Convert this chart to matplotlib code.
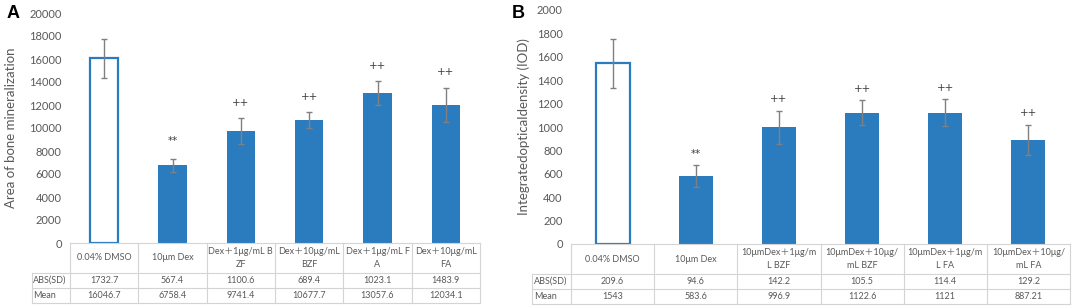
import matplotlib
matplotlib.use('Agg')
import matplotlib.pyplot as plt

plt.rcParams['font.family'] = ['Lato', 'DejaVu Sans', 'Noto Sans CJK SC']

# ---- data ----
groups_a = ['0.04% DMSO', '10μm Dex', 'Dex＋1μg/mL B\nZF', 'Dex＋10μg/mL\nBZF',
            'Dex＋1μg/mL F\nA', 'Dex＋10μg/mL\nFA']
mean_a = [16046.7, 6758.4, 9741.4, 10677.7, 13057.6, 12034.1]
sd_a = [1732.7, 567.4, 1100.6, 689.4, 1023.1, 1483.9]
marks_a = ['', '**', '++', '++', '++', '++']

groups_b = ['0.04% DMSO', '10μm Dex', '10μmDex＋1μg/m\nL BZF', '10μmDex＋10μg/\nmL BZF',
            '10μmDex＋1μg/m\nL FA', '10μmDex＋10μg/\nmL FA']
mean_b = [1543, 583.6, 996.9, 1122.6, 1121, 887.21]
sd_b = [209.6, 94.6, 142.2, 105.5, 114.4, 129.2]
marks_b = ['', '**', '++', '++', '++', '++']

BLUE = '#2B7CBF'
GRAY = '#595959'
LINE = '#d4d4d4'
W, H = 1072, 308

fig = plt.figure(figsize=(W / 100, H / 100), dpi=100)


def panel(rect_px, groups, means, sds, marks, ymax, step, ylabel, letter, letter_x,
          label_x, mark_off, label_w):
    l, t, r, b = rect_px
    ax = fig.add_axes([l / W, (H - b) / H, (r - l) / W, (b - t) / H])
    x = list(range(len(groups)))
    ax.bar(x[:1], means[:1], width=0.41, facecolor='white', edgecolor=BLUE, linewidth=1.6)
    ax.bar(x[1:], means[1:], width=0.41, color=BLUE)
    ax.errorbar(x, means, yerr=sds, fmt='none', ecolor='#808080', elinewidth=1.0,
                capsize=2, capthick=1.0)
    for xi, m, s, mk in zip(x, means, sds, marks):
        if mk:
            off = mark_off[0] if mk == '++' else mark_off[1]
            ax.annotate(mk, (xi, m + s), xytext=(0, off), textcoords='offset points',
                        ha='center', va='center', fontsize=7.5, family='DejaVu Sans',
                        color='#404040')
    ax.set_xlim(-0.5, len(groups) - 0.5)
    ax.set_ylim(0, ymax)
    ax.set_yticks(range(0, ymax + 1, step))
    ax.tick_params(axis='y', length=0, pad=6, labelsize=8, labelcolor=GRAY)
    ax.set_xticks([])
    for sp in ax.spines.values():
        sp.set_visible(False)
    ax.set_ylabel(ylabel, fontsize=9.5, color=GRAY)
    ax.yaxis.set_label_coords((label_x - l) / (r - l), 0.5)

    # data table below the axis
    hpx = b - t
    y0, y1, y2, y3 = 0, -30 / hpx, -45 / hpx, -60 / hpx
    tr = ax.get_xaxis_transform()
    n = len(groups)
    xl = -0.5 - label_w
    kw = dict(color=LINE, lw=0.8, transform=tr, clip_on=False)
    ax.plot([-0.5, n - 0.5], [y0, y0], **kw)
    for yy in (y1, y2, y3):
        ax.plot([xl, n - 0.5], [yy, yy], **kw)
    ax.plot([xl, xl], [y1, y3], **kw)
    for i in range(n + 1):
        ax.plot([i - 0.5, i - 0.5], [y0, y3], **kw)
    tkw = dict(transform=tr, fontsize=6.5, color=GRAY, va='center', clip_on=False)
    for i in range(n):
        ax.text(i, (y0 + y1) / 2, groups[i], ha='center', linespacing=1.5, **tkw)
        ax.text(i, (y1 + y2) / 2, f'{sds[i]:g}', ha='center', **tkw)
        ax.text(i, (y2 + y3) / 2, f'{means[i]:g}', ha='center', **tkw)
    ax.text(xl + 0.02, (y1 + y2) / 2, 'ABS(SD)', ha='left', **tkw)
    ax.text(xl + 0.02, (y2 + y3) / 2, 'Mean', ha='left', **tkw)

    fig.text(letter_x / W, 1 - 13 / H, letter, fontsize=13, fontweight='bold',
             family='Liberation Sans', ha='center', va='center')
    return ax


panel((70, 13, 480, 243), groups_a, mean_a, sd_a, marks_a, 20000, 2000,
      'Area of bone mineralization', 'A', 13, 17, (11, 12.5), 38 / 68.3)
panel((571, 10, 1070, 244), groups_b, mean_b, sd_b, marks_b, 2000, 200,
      'Integratedopticaldensity (IOD)', 'B', 518, 530, (8.5, 7.5), 39 / 83.2)

fig.savefig('out.png', dpi=100, facecolor='white')
